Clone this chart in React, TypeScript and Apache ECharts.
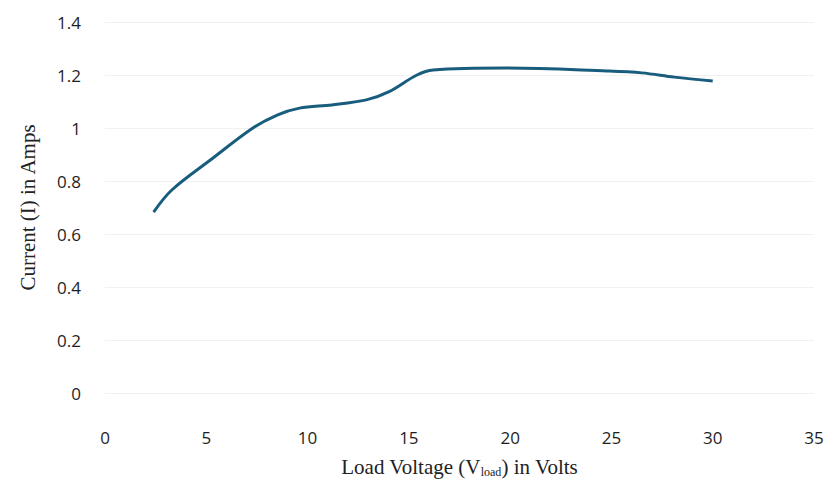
import React, { useEffect, useRef } from "react";
import * as echarts from "echarts";

// Load voltage (V) and measured current (A)
const loadVoltage = [2.4, 3.3, 5.2, 7.3, 8.5, 9.6, 11.2, 12.9, 14.0, 15.4, 16.2, 19.8, 24.8, 26.5, 28.1, 30.0];
const current = [0.683, 0.766, 0.879, 1.0, 1.049, 1.075, 1.087, 1.106, 1.136, 1.2, 1.219, 1.226, 1.215, 1.208, 1.192, 1.177];

const xTicks = [0, 5, 10, 15, 20, 25, 30, 35];
const yTicks = [0, 0.2, 0.4, 0.6, 0.8, 1, 1.2, 1.4];

export default function App() {
  const ref = useRef<HTMLDivElement>(null);

  useEffect(() => {
    if (!ref.current) return;
    const chart = echarts.init(ref.current, null, { renderer: "svg" });
    const points = loadVoltage.map((v, i) => [v, current[i]]);
    chart.setOption({
      animation: false,
      backgroundColor: "#ffffff",
      grid: { left: 105, right: 20, top: 22, bottom: 102 },
      xAxis: {
        type: "value",
        min: xTicks[0],
        max: xTicks[xTicks.length - 1],
        interval: 5,
        axisLine: { show: false },
        axisTick: { show: false },
        splitLine: { show: false },
        axisLabel: {
          margin: 36,
          fontFamily: "Open Sans",
          fontSize: 17,
          color: "#1e1e1e",
        },
        name: "Load Voltage (V{sub|load}) in Volts",
        nameLocation: "middle",
        nameGap: 63,
        nameTextStyle: {
          fontFamily: "Liberation Serif",
          fontSize: 21,
          color: "#222",
          rich: {
            sub: {
              fontFamily: "Liberation Serif",
              fontSize: 12,
              color: "#222",
              verticalAlign: "bottom",
              padding: [10, 0, 0, 0],
            },
          },
        },
      },
      yAxis: {
        type: "value",
        min: yTicks[0],
        max: yTicks[yTicks.length - 1],
        interval: 0.2,
        axisLine: { show: false },
        axisTick: { show: false },
        splitLine: { show: true, lineStyle: { color: "#f3f0f0", width: 1 } },
        axisLabel: {
          margin: 24,
          fontFamily: "Open Sans",
          fontSize: 17,
          color: "#1e1e1e",
          formatter: (v: number) => String(Math.round(v * 10) / 10),
        },
        name: "Current (I) in Amps",
        nameLocation: "middle",
        nameGap: 67,
        nameTextStyle: {
          fontFamily: "Liberation Serif",
          fontSize: 21,
          color: "#222",
        },
      },
      series: [
        {
          type: "line",
          data: points,
          smooth: 0.35,
          showSymbol: false,
          lineStyle: { color: "#185d7d", width: 3 },
        },
      ],
    });
    return () => chart.dispose();
  }, []);

  return (
    <div
      ref={ref}
      style={{ position: "fixed", left: 0, top: 0, width: 834, height: 495 }}
    />
  );
}
